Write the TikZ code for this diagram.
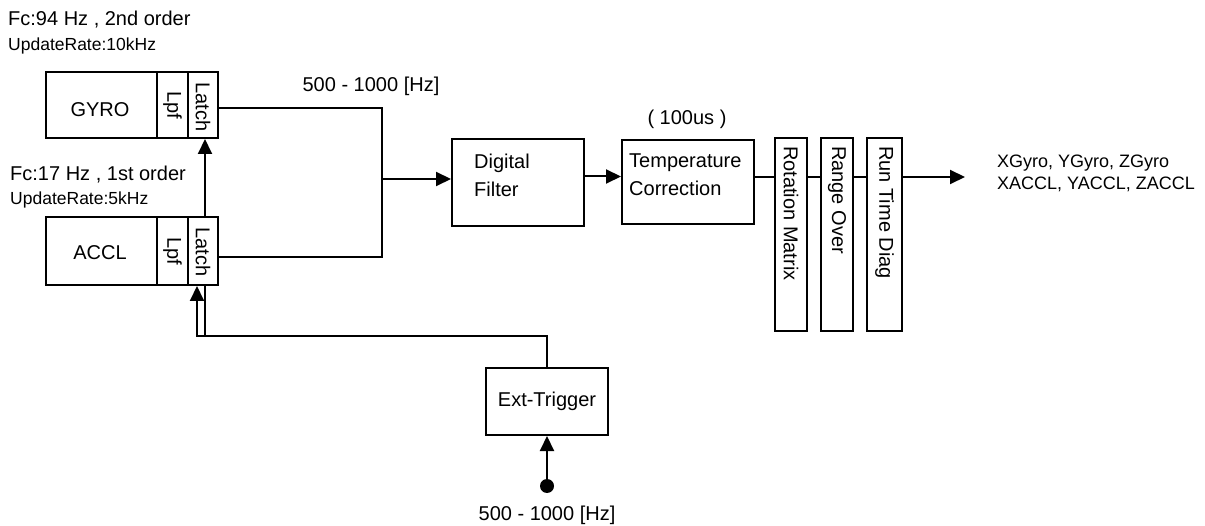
\documentclass[tikz,border=0pt]{standalone}
\usepackage{fontspec}
\setmainfont{Liberation Sans}
\usetikzlibrary{arrows.meta}
\tikzset{
  blk/.style={draw, line width=2pt, inner sep=0pt, font=\fontsize{20}{24}\selectfont},
  txt/.style={inner sep=0pt, font=\fontsize{20}{28}\selectfont},
  small/.style={inner sep=0pt, font=\fontsize{17.5}{20}\selectfont},
  wire/.style={line width=2pt},
  arr/.style={wire, -{Triangle[length=15pt,width=14pt]}},
}
\begin{document}
\begin{tikzpicture}[x=1pt,y=-1pt]
\useasboundingbox (0,0) rectangle (1205,526);
% sensor blocks
\node[blk, minimum width=111pt, minimum height=66pt] (gm) at (101.5,105) {};
\node[txt] at (100,109.5) {GYRO};
\node[blk, minimum width=31pt, minimum height=66pt] (gf) at (172.5,105) {};
\node[txt, rotate=-90] at (172.5,105) {Lpf};
\node[blk, minimum width=30pt, minimum height=66pt] (gl) at (203,105) {};
\node[txt, rotate=-90] at (203,107) {Latch};
\node[blk, minimum width=111pt, minimum height=68pt] (am) at (101.5,251) {};
\node[txt] at (100,252.5) {ACCL};
\node[blk, minimum width=31pt, minimum height=68pt] (af) at (172.5,251) {};
\node[txt, rotate=-90] at (172.5,251) {Lpf};
\node[blk, minimum width=30pt, minimum height=68pt] (al) at (203,251) {};
\node[txt, rotate=-90] at (203,252) {Latch};
% labels
\node[txt, anchor=west] at (8,20) {Fc:94 Hz , 2nd order};
\node[small, anchor=west] at (8,46) {UpdateRate:10kHz};
\node[txt, anchor=west] at (10,175) {Fc:17 Hz , 1st order};
\node[small, anchor=west] at (10,200) {UpdateRate:5kHz};
\node[txt] at (371,86) {500 - 1000 [Hz]};
% processing blocks
\node[blk, minimum width=132pt, minimum height=87pt] (df) at (518,182.5) {};
\node[txt, anchor=west, align=left] at (474,175) {Digital\\Filter};
\node[blk, minimum width=132pt, minimum height=84pt] (tc) at (688,182) {};
\node[txt, anchor=west, align=left] at (629,174.5) {Temperature\\Correction};
\node[txt] at (687,119) {( 100us )};
\node[blk, minimum width=32pt, minimum height=193pt] (rm) at (791,234.5) {};
\node[txt, rotate=-90, anchor=west] at (791,146) {Rotation Matrix};
\node[blk, minimum width=32pt, minimum height=193pt] (ro) at (837,234.5) {};
\node[txt, rotate=-90, anchor=west] at (837,146) {Range Over};
\node[blk, minimum width=35pt, minimum height=193pt] (rt) at (884.5,234.5) {};
\node[txt, rotate=-90, anchor=west] at (884.5,146) {Run Time Diag};
\node[small, anchor=west, align=left, font=\fontsize{18}{22}\selectfont] at (997,173) {XGyro, YGyro, ZGyro\\XACCL, YACCL, ZACCL};
% trigger
\node[blk, minimum width=122pt, minimum height=67pt] (et) at (547,401.5) {};
\node[txt] at (547,401.5) {Ext-Trigger};
\node[circle, fill, inner sep=0pt, minimum size=14pt] (src) at (547,486) {};
\node[txt] at (547,515) {500 - 1000 [Hz]};
% coordinates
\coordinate (j) at (382,179);
\coordinate (ly) at (0,177);
\coordinate (tb) at (0,336);
\coordinate (out) at (965,177);
% wires
\draw[wire] ([yshift=-3pt]gl.east) -| (j);
\draw[wire] ([yshift=-6pt]al.east) -| (j);
\draw[arr] (j) -- (j -| df.west);
\draw[arr] ([yshift=6pt]df.east) -- ([yshift=6pt]df.east -| tc.west);
\draw[wire] (tc.east |- ly) -- (rm.west |- ly);
\draw[wire] (rm.east |- ly) -- (ro.west |- ly);
\draw[wire] (ro.east |- ly) -- (rt.west |- ly);
\draw[arr] (rt.east |- ly) -- (out);
\draw[arr] ([xshift=2pt]al.north) -- ([xshift=2pt]gl.south);
\draw[arr] (et.north) |- ([xshift=-6pt]al.south |- tb) -- ([xshift=-6pt]al.south);
\draw[wire] ([xshift=2pt]al.south) -- ([xshift=2pt]al.south |- tb);
\draw[arr] (src) -- (et.south);
\end{tikzpicture}
\end{document}
